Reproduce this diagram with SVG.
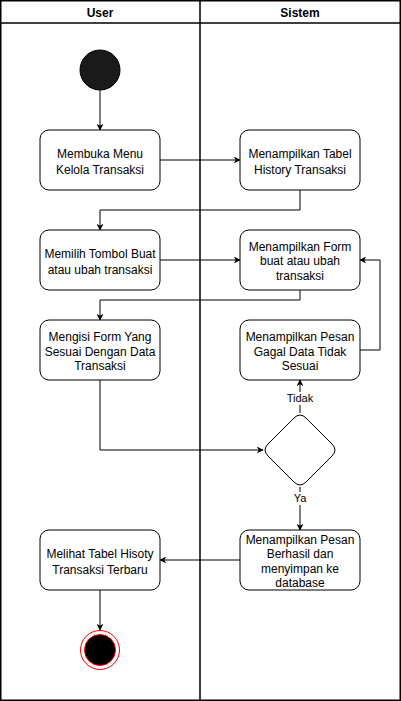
<svg xmlns="http://www.w3.org/2000/svg" width="401" height="701" viewBox="0 0 401 701">
<defs>
<style>
.lane{fill:none;stroke:#000;stroke-width:1.5}
.hdr{font-family:"Liberation Sans",Arial,sans-serif;font-size:12px;font-weight:bold;text-anchor:middle;fill:#000}
.box{fill:#fff;stroke:#000;stroke-width:1}
.t{font-family:"Liberation Sans",Arial,sans-serif;font-size:12px;text-anchor:middle;fill:#000}
.lbl{font-family:"Liberation Sans",Arial,sans-serif;font-size:11px;text-anchor:middle;fill:#000}
.c{fill:none;stroke:#000;stroke-width:1;marker-end:url(#arr)}
</style>
<marker id="arr" viewBox="0 0 10 10" refX="9" refY="5" markerWidth="7" markerHeight="7" orient="auto" markerUnits="userSpaceOnUse">
<path d="M0,0 L10,5 L0,10 L3,5 Z" fill="#000"/>
</marker>
</defs>
<rect width="401" height="701" fill="#fff"/>
<g id="lanes">
<rect class="lane" x="0.75" y="0.75" width="399.5" height="699.5"/>
<line class="lane" x1="200" y1="0" x2="200" y2="700"/>
<line class="lane" x1="0" y1="23" x2="400" y2="23"/>
<text class="hdr" x="100" y="17">User</text>
<text class="hdr" x="300" y="17">Sistem</text>
</g>
<g id="connectors">
<path class="c" d="M100,90 V130"/>
<path class="c" d="M160,160 H240"/>
<path class="c" d="M300,190 V210 H100 V230"/>
<path class="c" d="M160,260 H240"/>
<path class="c" d="M300,290 V300 H100 V320"/>
<path class="c" d="M360,350 H380 V260 H360"/>
<path class="c" d="M100,380 V450 H263"/>
<path class="c" d="M300,413 V380"/>
<path class="c" d="M300,487 V530"/>
<path class="c" d="M240,560 H160"/>
<path class="c" d="M100,590 V630"/>
<rect x="284" y="392" width="32" height="13" fill="#fff"/>
<text class="lbl" x="300" y="402">Tidak</text>
<rect x="291" y="492" width="18" height="13" fill="#fff"/>
<text class="lbl" x="300" y="502">Ya</text>
</g>
<g id="start"><circle cx="100" cy="70" r="20" fill="#1a1a1a" stroke="#000" stroke-width="1"/></g>
<g id="n1"><rect class="box" x="40" y="130" width="120" height="60" rx="9"/>
<text class="t" x="100" y="158">Membuka Menu</text><text class="t" x="100" y="174">Kelola Transaksi</text></g>
<g id="n2"><rect class="box" x="240" y="130" width="120" height="60" rx="9"/>
<text class="t" x="300" y="158">Menampilkan Tabel</text><text class="t" x="300" y="174">History Transaksi</text></g>
<g id="n3"><rect class="box" x="40" y="230" width="120" height="60" rx="9"/>
<text class="t" x="100" y="258">Memilih Tombol Buat</text><text class="t" x="100" y="274">atau ubah transaksi</text></g>
<g id="n4"><rect class="box" x="240" y="230" width="120" height="60" rx="9"/>
<text class="t" x="300" y="251">Menampilkan Form</text><text class="t" x="300" y="265">buat atau ubah</text><text class="t" x="300" y="280">transaksi</text></g>
<g id="n5"><rect class="box" x="40" y="320" width="120" height="60" rx="9"/>
<text class="t" x="100" y="341">Mengisi Form Yang</text><text class="t" x="100" y="356">Sesuai Dengan Data</text><text class="t" x="100" y="370">Transaksi</text></g>
<g id="n6"><rect class="box" x="240" y="320" width="120" height="60" rx="9"/>
<text class="t" x="300" y="341">Menampilkan Pesan</text><text class="t" x="300" y="356">Gagal Data Tidak</text><text class="t" x="300" y="370">Sesuai</text></g>
<g id="decision"><path class="box" d="M294,418 Q300,412 306,418 L332,444 Q338,450 332,456 L306,482 Q300,488 294,482 L268,456 Q262,450 268,444 Z"/></g>
<g id="n7"><rect class="box" x="240" y="530" width="120" height="60" rx="9"/>
<text class="t" x="300" y="544">Menampilkan Pesan</text><text class="t" x="300" y="558">Berhasil dan</text><text class="t" x="300" y="573">menyimpan ke</text><text class="t" x="300" y="587">database</text></g>
<g id="n8"><rect class="box" x="40" y="530" width="120" height="60" rx="9"/>
<text class="t" x="100" y="558">Melihat Tabel Hisoty</text><text class="t" x="100" y="574">Transaksi Terbaru</text></g>
<g id="end"><circle cx="100" cy="650" r="19.5" fill="#fff" stroke="#ff0000" stroke-width="1"/><circle cx="100" cy="650" r="15.5" fill="#000" stroke="#ff0000" stroke-width="1"/></g>
</svg>
